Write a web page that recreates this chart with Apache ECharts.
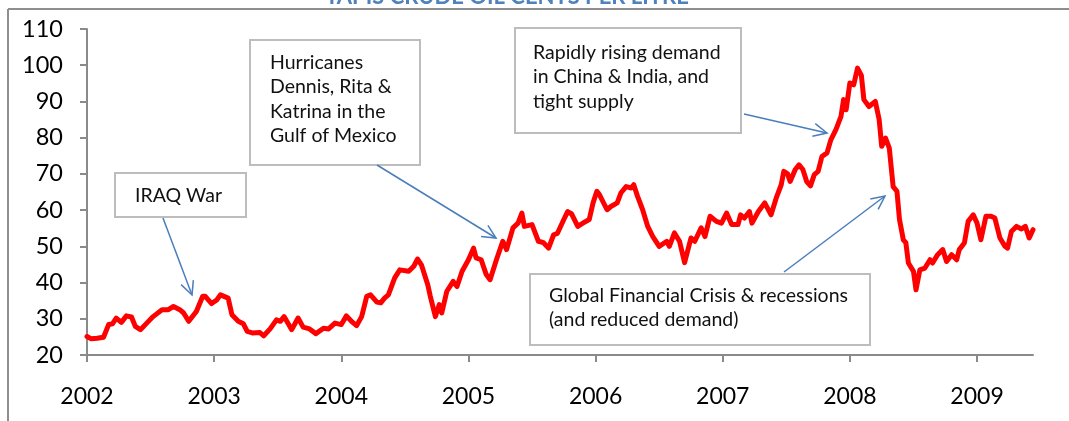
<!DOCTYPE html>
<html>
<head>
<meta charset="utf-8">
<script src="https://cdn.jsdelivr.net/npm/echarts@6/dist/echarts.min.js"></script>
<style>
  html, body { margin: 0; padding: 0; background: #fff; }
  #chart { width: 1069px; height: 421px; }
</style>
</head>
<body>
<div id="chart"></div>
<script>
// weekly-ish samples (decimal year, price)
var dates = [
  2002.00, 2002.03, 2002.08, 2002.13, 2002.17, 2002.20, 2002.23, 2002.27, 2002.31, 2002.35,
  2002.38, 2002.42, 2002.47, 2002.52, 2002.59, 2002.64, 2002.68, 2002.73, 2002.76, 2002.80,
  2002.86, 2002.91, 2002.93, 2002.98, 2003.02, 2003.05, 2003.11, 2003.14, 2003.19, 2003.23,
  2003.26, 2003.30, 2003.36, 2003.39, 2003.44, 2003.49, 2003.52, 2003.55, 2003.61, 2003.66,
  2003.70, 2003.75, 2003.80, 2003.86, 2003.90, 2003.95, 2004.00, 2004.04, 2004.08, 2004.12,
  2004.16, 2004.20, 2004.23, 2004.28, 2004.31, 2004.34, 2004.37, 2004.42, 2004.46, 2004.53,
  2004.57, 2004.60, 2004.63, 2004.68, 2004.70, 2004.74, 2004.77, 2004.79, 2004.83, 2004.88,
  2004.91, 2004.95, 2005.00, 2005.04, 2005.06, 2005.10, 2005.14, 2005.17, 2005.22, 2005.27,
  2005.30, 2005.35, 2005.39, 2005.42, 2005.44, 2005.50, 2005.55, 2005.59, 2005.63, 2005.67,
  2005.70, 2005.75, 2005.78, 2005.81, 2005.86, 2005.90, 2005.95, 2005.98, 2006.01, 2006.03,
  2006.09, 2006.12, 2006.17, 2006.20, 2006.24, 2006.28, 2006.30, 2006.33, 2006.37, 2006.41,
  2006.45, 2006.50, 2006.56, 2006.58, 2006.62, 2006.66, 2006.70, 2006.75, 2006.78, 2006.83,
  2006.86, 2006.90, 2006.95, 2006.99, 2007.03, 2007.07, 2007.12, 2007.14, 2007.17, 2007.21,
  2007.23, 2007.28, 2007.33, 2007.38, 2007.42, 2007.46, 2007.48, 2007.51, 2007.53, 2007.57,
  2007.60, 2007.63, 2007.66, 2007.69, 2007.72, 2007.75, 2007.78, 2007.82, 2007.85, 2007.89,
  2007.93, 2007.95, 2007.97, 2008.00, 2008.03, 2008.06, 2008.09, 2008.11, 2008.15, 2008.20,
  2008.23, 2008.25, 2008.28, 2008.31, 2008.34, 2008.37, 2008.39, 2008.42, 2008.44, 2008.46,
  2008.50, 2008.52, 2008.55, 2008.59, 2008.63, 2008.65, 2008.69, 2008.73, 2008.76, 2008.80,
  2008.84, 2008.86, 2008.90, 2008.93, 2008.97, 2009.00, 2009.03, 2009.07, 2009.11, 2009.14,
  2009.18, 2009.22, 2009.24, 2009.27, 2009.31, 2009.35, 2009.38, 2009.41, 2009.44
];
var prices = [
  25.1, 24.5, 24.6, 24.9, 28.4, 28.6, 30.2, 29.0, 30.8, 30.5,
  27.9, 27.0, 28.8, 30.6, 32.5, 32.5, 33.4, 32.5, 31.6, 29.3,
  32.0, 36.2, 36.2, 34.2, 35.2, 36.6, 35.7, 31.1, 29.3, 28.6,
  26.5, 26.1, 26.2, 25.3, 27.2, 29.7, 29.3, 30.6, 27.0, 30.2,
  27.7, 27.2, 25.9, 27.4, 27.2, 28.8, 28.4, 30.8, 29.3, 28.1,
  30.6, 36.2, 36.6, 34.6, 34.4, 35.7, 36.6, 41.3, 43.5, 43.1,
  44.5, 46.5, 44.9, 39.4, 36.2, 30.6, 33.9, 31.6, 37.6, 40.3,
  38.9, 43.1, 46.3, 49.5, 46.8, 46.3, 42.2, 40.8, 46.3, 51.4,
  49.1, 55.1, 56.4, 59.2, 55.5, 56.0, 51.4, 51.0, 49.5, 53.2,
  53.6, 57.4, 59.6, 59.0, 55.5, 56.4, 57.4, 62.0, 65.2, 64.3,
  60.1, 61.0, 62.0, 64.8, 66.5, 66.1, 67.0, 63.8, 60.1, 55.5,
  52.7, 50.0, 51.4, 50.0, 53.7, 51.4, 45.5, 52.3, 51.4, 55.1,
  52.7, 58.3, 56.9, 56.4, 59.2, 56.0, 56.0, 58.7, 57.8, 59.6,
  56.4, 59.6, 62.0, 58.7, 63.3, 67.0, 70.7, 70.0, 67.9, 71.2,
  72.5, 71.2, 67.9, 66.7, 69.8, 70.7, 74.8, 75.8, 79.4, 82.2,
  85.9, 90.5, 87.7, 95.1, 94.6, 99.2, 97.2, 90.5, 88.6, 90.0,
  85.0, 77.6, 79.9, 77.1, 66.5, 65.2, 57.4, 51.8, 51.0, 45.4,
  43.1, 38.0, 43.5, 44.0, 46.3, 45.4, 47.7, 49.1, 45.8, 47.7,
  46.3, 49.1, 50.9, 56.9, 58.7, 56.4, 51.8, 58.3, 58.3, 57.8,
  52.3, 50.0, 49.5, 54.1, 55.5, 54.8, 55.5, 52.3, 54.6
];
var yearTicks = [2002, 2003, 2004, 2005, 2006, 2007, 2008, 2009];
var titleText = 'TAPIS CRUDE OIL CENTS PER LITRE';

// annotation boxes: text lines
var noteIraq = ['IRAQ War'];
var noteHurricanes = ['Hurricanes', 'Dennis, Rita &', 'Katrina in the', 'Gulf of Mexico'];
var noteDemand = ['Rapidly rising demand', 'in China & India, and', 'tight supply'];
var noteCrisis = ['Global Financial Crisis & recessions', '(and reduced demand)'];

var seriesData = dates.map(function (d, i) { return [d, prices[i]]; });

var FONT = 'Lato, "Open Sans", sans-serif';
var ARROW = '#4A7EBB';
var BOX = '#BDBDBD';

function box(x, y, w, h, lines, tx, ty) {
  return {
    type: 'group',
    children: [
      { type: 'rect', shape: { x: x, y: y, width: w, height: h },
        style: { fill: '#fff', stroke: BOX, lineWidth: 2 } },
      { type: 'text', x: tx, y: ty,
        style: { text: lines.join('\n'), font: '19.5px ' + FONT, fill: '#111',
                 lineHeight: 24.5, textVerticalAlign: 'top' } }
    ]
  };
}

function arrow(x1, y1, x2, y2) {
  var a = Math.atan2(y2 - y1, x2 - x1);
  var len = 15, spread = 0.45;
  var p1 = [x2 - len * Math.cos(a - spread), y2 - len * Math.sin(a - spread)];
  var p2 = [x2 - len * Math.cos(a + spread), y2 - len * Math.sin(a + spread)];
  return {
    type: 'group',
    children: [
      { type: 'line', shape: { x1: x1, y1: y1, x2: x2, y2: y2 },
        style: { stroke: ARROW, lineWidth: 1.5 } },
      { type: 'polyline', shape: { points: [p1, [x2, y2], p2] },
        style: { stroke: ARROW, lineWidth: 1.5, fill: null } }
    ]
  };
}

var chart = echarts.init(document.getElementById('chart'));
chart.setOption({
  animation: false,
  backgroundColor: '#fff',
  grid: { left: 87, right: 36, top: 29, bottom: 66 },
  xAxis: {
    type: 'value',
    min: 2002,
    max: 2009.44,
    interval: 1,
    splitLine: { show: false },
    axisLine: { lineStyle: { color: '#8a8a8a', width: 2 } },
    axisTick: { show: true, length: 7, customValues: yearTicks,
                lineStyle: { color: '#8a8a8a', width: 2 } },
    axisLabel: { customValues: yearTicks, margin: 30, fontSize: 23, color: '#000',
                 fontFamily: FONT, formatter: function (v) { return String(Math.round(v)); } }
  },
  yAxis: {
    type: 'value',
    min: 20,
    max: 110,
    interval: 10,
    splitLine: { show: false },
    axisLine: { show: true, lineStyle: { color: '#8a8a8a', width: 2 } },
    axisTick: { show: true, length: 7, lineStyle: { color: '#8a8a8a', width: 2 } },
    axisLabel: { margin: 24, fontSize: 23.5, color: '#000', fontFamily: FONT }
  },
  series: [{
    type: 'line',
    data: seriesData,
    symbol: 'none',
    smooth: false,
    lineStyle: { color: '#FF0000', width: 5, join: 'round', cap: 'round' },
    z: 3
  }],
  graphic: [
    { type: 'line', shape: { x1: 8, y1: 9, x2: 1069, y2: 9 },
      style: { stroke: '#8e8e8e', lineWidth: 2 } },
    { type: 'line', shape: { x1: 8, y1: 9, x2: 8, y2: 421 },
      style: { stroke: '#8e8e8e', lineWidth: 2 } },
    { type: 'text', x: 507, y: 8,
      style: { text: titleText, font: 'bold 22px ' + FONT, fill: '#4F81BD',
               textAlign: 'center', textVerticalAlign: 'bottom' } },
    box(115, 173, 131, 44, noteIraq, 135, 183),
    box(250, 40, 170, 125, noteHurricanes, 270, 50),
    box(515, 28, 226, 105, noteDemand, 533, 40),
    box(530, 274, 340, 71, noteCrisis, 549, 283),
    arrow(163, 218, 192, 295),
    arrow(377, 165, 496, 238),
    arrow(744, 114, 827, 133),
    arrow(784, 272, 885, 196)
  ]
});
</script>
</body>
</html>
